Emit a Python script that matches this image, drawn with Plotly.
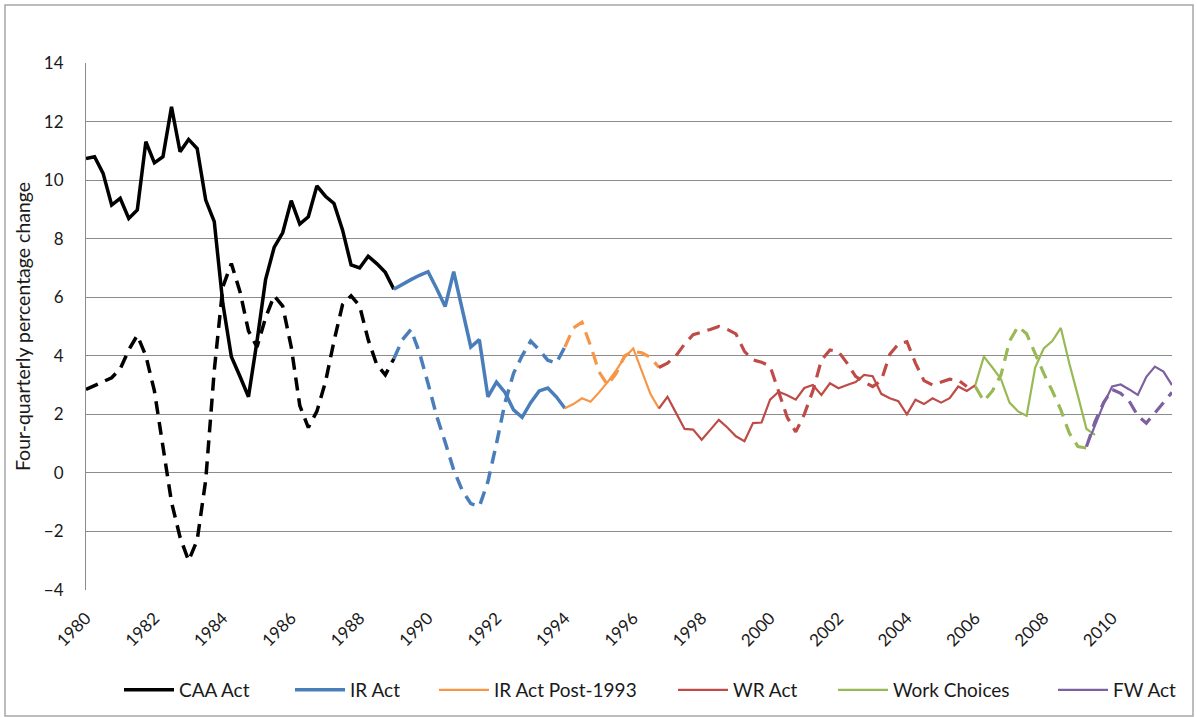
import plotly.graph_objects as go

# ---------------- data ----------------
# quarterly observations, 1980Q1 .. 2011Q4
start_year = 1980
n_quarters = 128
quarters = [start_year + i / 4 for i in range(n_quarters)]

series_names = ["CAA Act", "IR Act", "IR Act Post-1993", "WR Act", "Work Choices", "FW Act"]
# index of first quarter of each period
solid_start = [0, 36, 56, 67, 104, 117]
dashed_start = [0, 36, 56, 67, 104, 117]

caa_solid = [10.74, 10.8, 10.23, 9.15, 9.38, 8.69, 8.98, 11.31, 10.59, 10.8, 12.5, 10.97, 11.39,
             11.08, 9.32, 8.58, 5.79, 3.97, 3.3, 2.6, 4.5, 6.6, 7.7, 8.2, 9.3, 8.5, 8.75, 9.8,
             9.45, 9.2, 8.3, 7.1, 7.0, 7.4, 7.15, 6.85, 6.27]
caa_dashed = [2.85, 2.98, 3.1, 3.25, 3.55, 4.2, 4.7, 4.0, 2.8, 0.95, -1.0, -2.2, -3.0, -2.3,
              -0.25, 3.5, 6.35, 7.15, 6.2, 4.85, 4.3, 5.3, 6.05, 5.7, 4.3, 2.3, 1.55, 2.1, 3.1,
              4.5, 5.75, 6.05, 5.7, 4.55, 3.7, 3.35, 3.9]

ir_solid = [6.27, 6.45, 6.6, 6.75, 6.87, 6.3, 5.68, 6.87, 5.56, 4.3, 4.55, 2.6, 3.1, 2.75,
            2.15, 1.9, 2.4, 2.8, 2.9, 2.6, 2.21]
ir_dashed = [3.9, 4.55, 4.9, 4.1, 3.05, 1.95, 1.05, 0.1, -0.6, -1.05, -1.15, -0.3, 1.0, 2.4,
             3.4, 4.0, 4.5, 4.2, 3.85, 3.75, 4.3]

post93_solid = [2.21, 2.35, 2.55, 2.43, 2.75, 3.1, 3.5, 3.95, 4.25, 3.5, 2.7, 2.2]
post93_dashed = [4.3, 4.95, 5.15, 4.35, 3.45, 3.0, 3.4, 4.0, 4.15, 4.1, 3.95, 3.6]

wr_solid = [2.2, 2.6, 2.05, 1.5, 1.48, 1.13, 1.47, 1.81, 1.55, 1.25, 1.08, 1.7, 1.72, 2.5,
            2.77, 2.65, 2.5, 2.9, 3.0, 2.66, 3.06, 2.89, 3.0, 3.1, 3.35, 3.3, 2.7, 2.55, 2.45,
            2.0, 2.5, 2.35, 2.55, 2.4, 2.55, 2.95, 2.8, 3.0]
wr_dashed = [3.6, 3.75, 4.0, 4.4, 4.72, 4.8, 4.9, 5.0, 4.9, 4.75, 4.15, 3.86, 3.78, 3.65,
             2.8, 1.9, 1.4, 2.0, 2.8, 3.85, 4.2, 4.14, 3.75, 3.3, 3.1, 2.95, 3.15, 4.05, 4.4,
             4.48, 3.75, 3.15, 3.0, 3.1, 3.2, 3.17, 2.95]

wc_solid = [3.0, 3.97, 3.6, 3.2, 2.4, 2.1, 1.95, 3.6, 4.25, 4.5, 4.95, 3.73, 2.63, 1.5, 1.3]
wc_dashed = [2.95, 2.45, 2.8, 3.35, 4.5, 5.0, 4.75, 4.05, 3.4, 2.8, 2.15, 1.35, 0.9, 0.85]

fw_solid = [0.9, 1.64, 2.35, 2.95, 3.02, 2.85, 2.66, 3.28, 3.63, 3.46, 3.0]
fw_dashed = [0.9, 1.75, 2.4, 2.85, 2.72, 2.45, 1.95, 1.7, 2.05, 2.4, 2.75]

solid_values = [caa_solid, ir_solid, post93_solid, wr_solid, wc_solid, fw_solid]
dashed_values = [caa_dashed, ir_dashed, post93_dashed, wr_dashed, wc_dashed, fw_dashed]

y_ticks = list(range(-4, 15, 2))
x_ticks = list(range(1980, 2011, 2))

# ---------------- style ----------------
colors = ["#000000", "#4A7EBB", "#F79646", "#BE4B48", "#98B954", "#7D60A0"]
solid_w = [3.5, 3.5, 2.2, 2.2, 2.2, 2.2]
dashed_w = [3.5, 3.5, 3.2, 3.2, 3.2, 3.2]
FONT = "Lato, 'Open Sans', sans-serif"

# plot-area geometry (px)
L, R, T, B = 86, 25, 63, 127
W, H = 1197, 717
pw, ph = W - L - R, H - T - B


def px_x(px):
    return (px - L) / pw


def px_y(py):
    return (H - B - py) / ph


fig = go.Figure()
legend_text_px = [179, 350, 494, 733, 893, 1113]
for k in range(6):
    xs = quarters[dashed_start[k]:dashed_start[k] + len(dashed_values[k])]
    fig.add_trace(go.Scatter(x=xs, y=dashed_values[k], mode="lines",
                             line=dict(color=colors[k], width=dashed_w[k], dash="13px,8px"),
                             showlegend=False, hoverinfo="skip"))
for k in range(6):
    xs = quarters[solid_start[k]:solid_start[k] + len(solid_values[k])]
    lg = "legend" if k == 0 else f"legend{k + 1}"
    fig.add_trace(go.Scatter(x=xs, y=solid_values[k], mode="lines", name=series_names[k],
                             line=dict(color=colors[k], width=solid_w[k]),
                             legend=lg))

layout_legends = {}
for k in range(6):
    key = "legend" if k == 0 else f"legend{k + 1}"
    layout_legends[key] = dict(x=px_x(legend_text_px[k] - 60), y=px_y(690),
                               xanchor="left", yanchor="middle", orientation="h",
                               itemwidth=50,
                               bgcolor="rgba(0,0,0,0)",
                               font=dict(family=FONT, size=19, color="#1a1a1a"))

fig.update_layout(
    width=W, height=H,
    margin=dict(l=L, r=R, t=T, b=B, autoexpand=False),
    paper_bgcolor="white", plot_bgcolor="white",
    font=dict(family=FONT, color="#1a1a1a"),
    xaxis=dict(range=[start_year, quarters[-1]], tickvals=x_ticks,
               ticktext=[str(v) for v in x_ticks], tickangle=-45, automargin=False,
               showgrid=False, zeroline=False, showline=False, ticks="",
               ticklabelstandoff=14,
               tickfont=dict(family=FONT, size=17, color="#1a1a1a")),
    yaxis=dict(range=[-4, 14], tickvals=y_ticks, showgrid=True, gridcolor="#8c8c8c",
               gridwidth=1, zeroline=False, showline=True, linecolor="#8c8c8c", linewidth=1,
               ticks="", ticklabelstandoff=18, automargin=False,
               tickfont=dict(family=FONT, size=17, color="#1a1a1a"),
               title=dict(text="Four-quarterly percentage change", standoff=8,
                          font=dict(family=FONT, size=19.5, color="#1a1a1a"))),
    shapes=[dict(type="rect", xref="paper", yref="paper",
                 x0=px_x(5), x1=px_x(1193), y0=px_y(716), y1=px_y(5),
                 line=dict(color="#a6a6a6", width=1.5), fillcolor="rgba(0,0,0,0)", layer="below")],
    **layout_legends,
)

fig.write_html("out.html", config={"displayModeBar": False},
               post_script="document.body.style.margin='0';")
